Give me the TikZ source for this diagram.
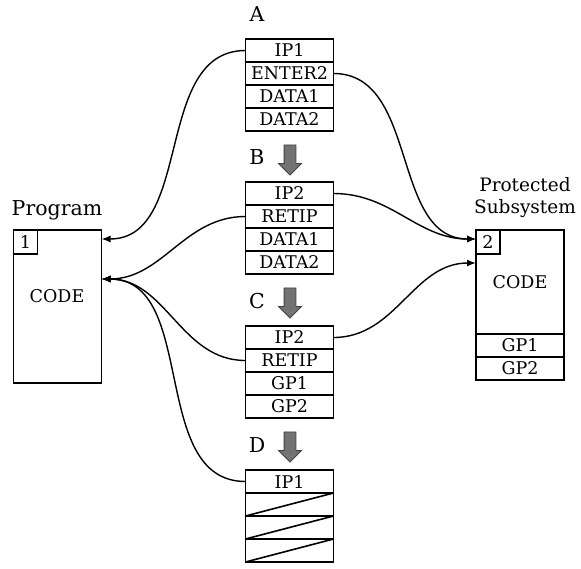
\documentclass[tikz,border=0pt]{standalone}
\usepackage{fontspec}
\setmainfont{DejaVu Serif}
\usetikzlibrary{positioning,shapes.arrows,arrows.meta}

\tikzset{
  cell/.style={draw, line width=1.6pt, outer sep=0pt, inner sep=0pt,
    minimum width=88pt, minimum height=23pt, font=\fontsize{17.5}{19}\selectfont},
  numbox/.style={draw, line width=1.6pt, outer sep=0pt, inner sep=0pt,
    minimum size=24pt, anchor=north west, font=\fontsize{17.5}{19}\selectfont},
  codebox/.style={draw, line width=1.6pt, outer sep=0pt, minimum width=88pt},
  biglabel/.style={font=\fontsize{20.5}{23}\selectfont, align=center},
  movearrow/.style={single arrow, draw=black!75, fill=black!55, line width=0.8pt,
    rotate=-90, minimum height=30pt, text height=11pt, text depth=0pt, inner sep=0pt,
    single arrow head extend=5.5pt},
  link/.style={line width=1.4pt, -{Latex[length=9pt,width=7pt]}}
}

\begin{document}
\begin{tikzpicture}[x=1pt,y=-1pt]
  \useasboundingbox (0,0) rectangle (581,568);

  % program
  \node[codebox, minimum height=153pt] (prog) at (57.5,306.5) {};
  \node[font=\fontsize{17.5}{19}\selectfont] (progcode) at (57,296) {CODE};
  \node[numbox] (one) at (prog.north west) {1};
  \node[biglabel] (proglabel) at (57,210) {Program};

  % protected subsystem
  \node[codebox, minimum height=104pt, font=\fontsize{17.5}{19}\selectfont] (prot) at (520,282) {CODE};
  \node[cell, below=0pt of prot] (gp1) {GP1};
  \node[cell, below=0pt of gp1] (gp2) {GP2};
  \node[numbox] (two) at (prot.north west) {2};
  \node[biglabel, font=\fontsize{18.5}{22}\selectfont] (protlabel) at (525,198) {Protected\\Subsystem};

  % stack A
  \node (la) at (257,14) [biglabel] {A};
  \node[cell] (a1) at (289.5,50.5) {IP1};
  \node[cell, below=0pt of a1] (a2) {ENTER2};
  \node[cell, below=0pt of a2] (a3) {DATA1};
  \node[cell, below=0pt of a3] (a4) {DATA2};
  \node[movearrow] (ab) at (290,157) {};

  % stack B
  \node (lb) at (257,157) [biglabel] {B};
  \node[cell] (b1) at (289.5,193.5) {IP2};
  \node[cell, below=0pt of b1] (b2) {RETIP};
  \node[cell, below=0pt of b2] (b3) {DATA1};
  \node[cell, below=0pt of b3] (b4) {DATA2};
  \node[movearrow] (bc) at (290,300) {};

  % stack C
  \node (lc) at (257,301) [biglabel] {C};
  \node[cell] (c1) at (289.5,337.5) {IP2};
  \node[cell, below=0pt of c1] (c2) {RETIP};
  \node[cell, below=0pt of c2] (c3) {GP1};
  \node[cell, below=0pt of c3] (c4) {GP2};
  \node[movearrow] (cd) at (290,444) {};

  % stack D
  \node (ld) at (257,445) [biglabel] {D};
  \node[cell] (d1) at (289.5,481.5) {IP1};
  \node[cell, below=0pt of d1] (d2) {};
  \node[cell, below=0pt of d2] (d3) {};
  \node[cell, below=0pt of d3] (d4) {};
  \draw[line width=1.6pt] (d2.south west) -- (d2.north east);
  \draw[line width=1.6pt] (d3.south west) -- (d3.north east);
  \draw[line width=1.6pt] (d4.south west) -- (d4.north east);

  % calls and returns
  \draw[link] (a1.west) to[out=180,in=0] ([yshift=-9pt]prog.north east);
  \draw[link] (b2.west) to[out=180,in=0] ([yshift=-49pt]prog.north east);
  \draw[link] (c2.west) to[out=180,in=0] ([yshift=-49pt]prog.north east);
  \draw[link] (d1.west) to[out=180,in=0] ([yshift=-49pt]prog.north east);
  \draw[link] (a2.east) to[out=0,in=180] ([yshift=-9pt]prot.north west);
  \draw[link] (b1.east) to[out=0,in=180] ([yshift=-9pt]prot.north west);
  \draw[link] (c1.east) to[out=0,in=180] ([yshift=-33pt]prot.north west);
\end{tikzpicture}
\end{document}
